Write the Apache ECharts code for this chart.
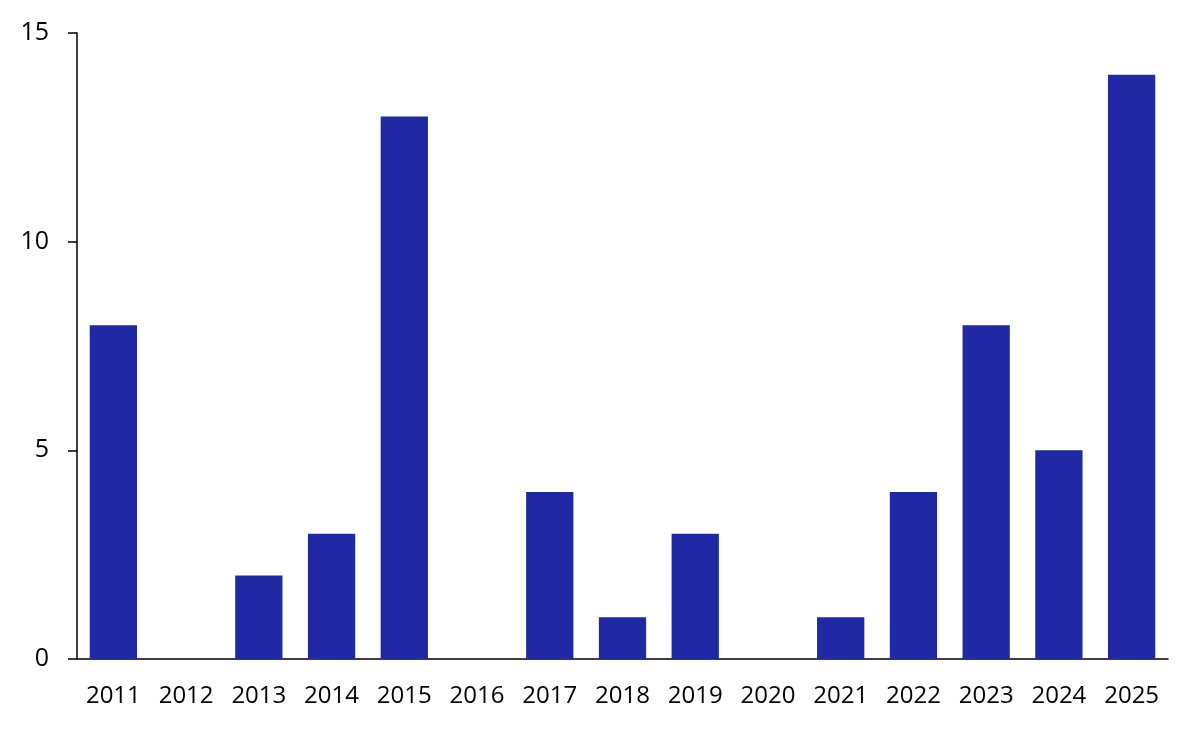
<!DOCTYPE html>
<html><head><meta charset="utf-8">
<script src="https://cdn.jsdelivr.net/npm/echarts@6/dist/echarts.min.js"></script>
<style>html,body{margin:0;padding:0;background:#fff}#c{width:1200px;height:731px}</style>
</head><body><div id="c"></div>
<script>
const years = ['2011','2012','2013','2014','2015','2016','2017','2018','2019','2020','2021','2022','2023','2024','2025'];
const counts = [8,0,2,3,13,0,4,1,3,0,1,4,8,5,14];
const yTicks = {min:0,max:15,interval:5};
const chart = echarts.init(document.getElementById('c'));
chart.setOption({
  animation:false,
  grid:{left:77,right:32,top:33,bottom:72,containLabel:false},
  xAxis:{type:'category',data:years,
    axisLine:{lineStyle:{color:'#000',width:1.5}},
    axisTick:{show:false},
    axisLabel:{color:'#000',fontFamily:'Open Sans',fontSize:24,margin:25,interval:0,hideOverlap:false}},
  yAxis:{type:'value',min:yTicks.min,max:yTicks.max,interval:yTicks.interval,
    axisLine:{show:true,lineStyle:{color:'#000',width:1.5}},
    axisTick:{show:true,inside:false,length:9,lineStyle:{color:'#000',width:1.5}},
    splitLine:{show:false},
    axisLabel:{color:'#000',fontFamily:'Open Sans',fontSize:25,margin:28}},
  series:[{type:'bar',data:counts,barWidth:'65%',itemStyle:{color:'#2029A3'}}]
});
</script></body></html>
